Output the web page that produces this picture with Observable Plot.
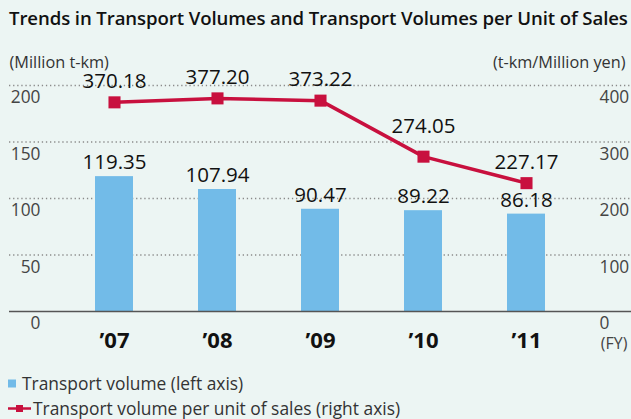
<!DOCTYPE html>
<html>
<head>
<meta charset="utf-8">
<script src="https://cdn.jsdelivr.net/npm/d3@7"></script>
<script src="https://cdn.jsdelivr.net/npm/@observablehq/plot@0.6"></script>
<style>
  html, body { margin: 0; padding: 0; background: #ecf5f3; width: 631px; height: 419px; overflow: hidden; }
  body { font-family: "Open Sans", sans-serif; color: #222; }
  #title { height: 36px; line-height: 36px; padding-left: 9px; font-size: 18.6px; font-weight: 600; color: #111; white-space: nowrap; letter-spacing: -0.1px; }
  #chart svg { display: block; background: transparent; }
  .leg { height: 25px; line-height: 25px; font-size: 17.4px; color: #333; white-space: nowrap; display: flex; align-items: center; }
  .leg svg { display: block; }
</style>
</head>
<body>
<div id="title">Trends in Transport Volumes and Transport Volumes per Unit of Sales</div>
<div id="chart"></div>
<div id="legend">
  <div class="leg"><svg width="22" height="25"><rect x="8" y="8.5" width="8" height="8" fill="#72bbe8"></rect></svg><span>Transport volume (left axis)</span></div>
  <div class="leg"><svg width="33" height="25"><line x1="8" x2="31" y1="12.5" y2="12.5" stroke="#c8103e" stroke-width="2.5"></line><rect x="16" y="9" width="7" height="7" fill="#c8103e"></rect></svg><span>Transport volume per unit of sales (right axis)</span></div>
</div>
<script>
const years = ["’07", "’08", "’09", "’10", "’11"];
const volume = [119.35, 107.94, 90.47, 89.22, 86.18];           // Million t-km (left axis)
const perSales = [370.18, 377.20, 373.22, 274.05, 227.17];      // t-km/Million yen (right axis)
const leftTicks = [0, 50, 100, 150, 200];
const rightTicks = [0, 100, 200, 300, 400];

const data = years.map((y, i) => ({year: y, volume: volume[i], perSales: perSales[i]}));
const ratio = 2; // right axis = 2 x left axis

const blue = "#72bbe8";
const red = "#c8103e";
const font = "Open Sans, sans-serif";

const chart = Plot.plot({
  width: 631,
  height: 335,
  marginTop: 49,
  marginBottom: 60,
  marginLeft: 9,
  marginRight: 0,
  style: {background: "transparent", fontFamily: font, overflow: "visible"},
  x: {type: "band", domain: years, range: [60.1, 578.9], paddingInner: 0.634, paddingOuter: 0.317, axis: null},
  y: {domain: [0, 200], axis: null},
  marks: [
    Plot.ruleY(leftTicks.filter(d => d > 0), {stroke: "#8a8a8a", strokeWidth: 1.3, strokeDasharray: "1.3,2.8"}),
    // left tick labels
    Plot.text(leftTicks, {y: d => d, frameAnchor: "left", dx: 31, dy: 12, text: d => String(d), textAnchor: "end", fontSize: 17.3, fill: "#444"}),
    // right tick labels
    Plot.text(rightTicks, {y: d => d / ratio, frameAnchor: "right", dx: -32, dy: 12, text: d => String(d), textAnchor: "start", fontSize: 17.3, fill: "#444"}),
    Plot.barY(data, {x: "year", y: "volume", fill: blue}),
    Plot.ruleY([0], {stroke: "#555", strokeWidth: 1.4}),
    Plot.text(data, {x: "year", y: "volume", text: d => d.volume.toFixed(2), dy: -14, fontSize: 20.5, fontWeight: 500, fill: "#111"}),
    Plot.line(data, {x: "year", y: d => d.perSales / ratio, stroke: red, strokeWidth: 3.5}),
    Plot.dot(data, {x: "year", y: d => d.perSales / ratio, symbol: "square", r: 6.8, fill: red, stroke: "none"}),
    Plot.text(data.filter(d => d.year !== "’10"), {x: "year", y: d => d.perSales / ratio, text: d => d.perSales.toFixed(2), dy: -21, fontSize: 20.5, fontWeight: 500, fill: "#111"}),
    Plot.text(data.filter(d => d.year === "’10"), {x: "year", y: d => d.perSales / ratio, text: d => d.perSales.toFixed(2), dy: -30, fontSize: 20.5, fontWeight: 500, fill: "#111"}),
    // category labels
    Plot.text(data, {x: "year", frameAnchor: "bottom", dy: 36, text: "year", fontSize: 22, fontWeight: 700, fill: "#111"}),
    Plot.text(["(FY)"], {frameAnchor: "bottom-right", dx: -4, dy: 37.5, textAnchor: "end", fontSize: 16, fill: "#444"}),
    // axis unit labels
    Plot.text(["(Million t-km)"], {frameAnchor: "top-left", dx: 0, dy: -29.5, textAnchor: "start", fontSize: 16.3, fill: "#333"}),
    Plot.text(["(t-km/Million yen)"], {frameAnchor: "top-right", dx: -6, dy: -29.5, textAnchor: "end", fontSize: 16.3, fill: "#333"})
  ]
});
document.getElementById("chart").appendChild(chart);
</script>
</body>
</html>
